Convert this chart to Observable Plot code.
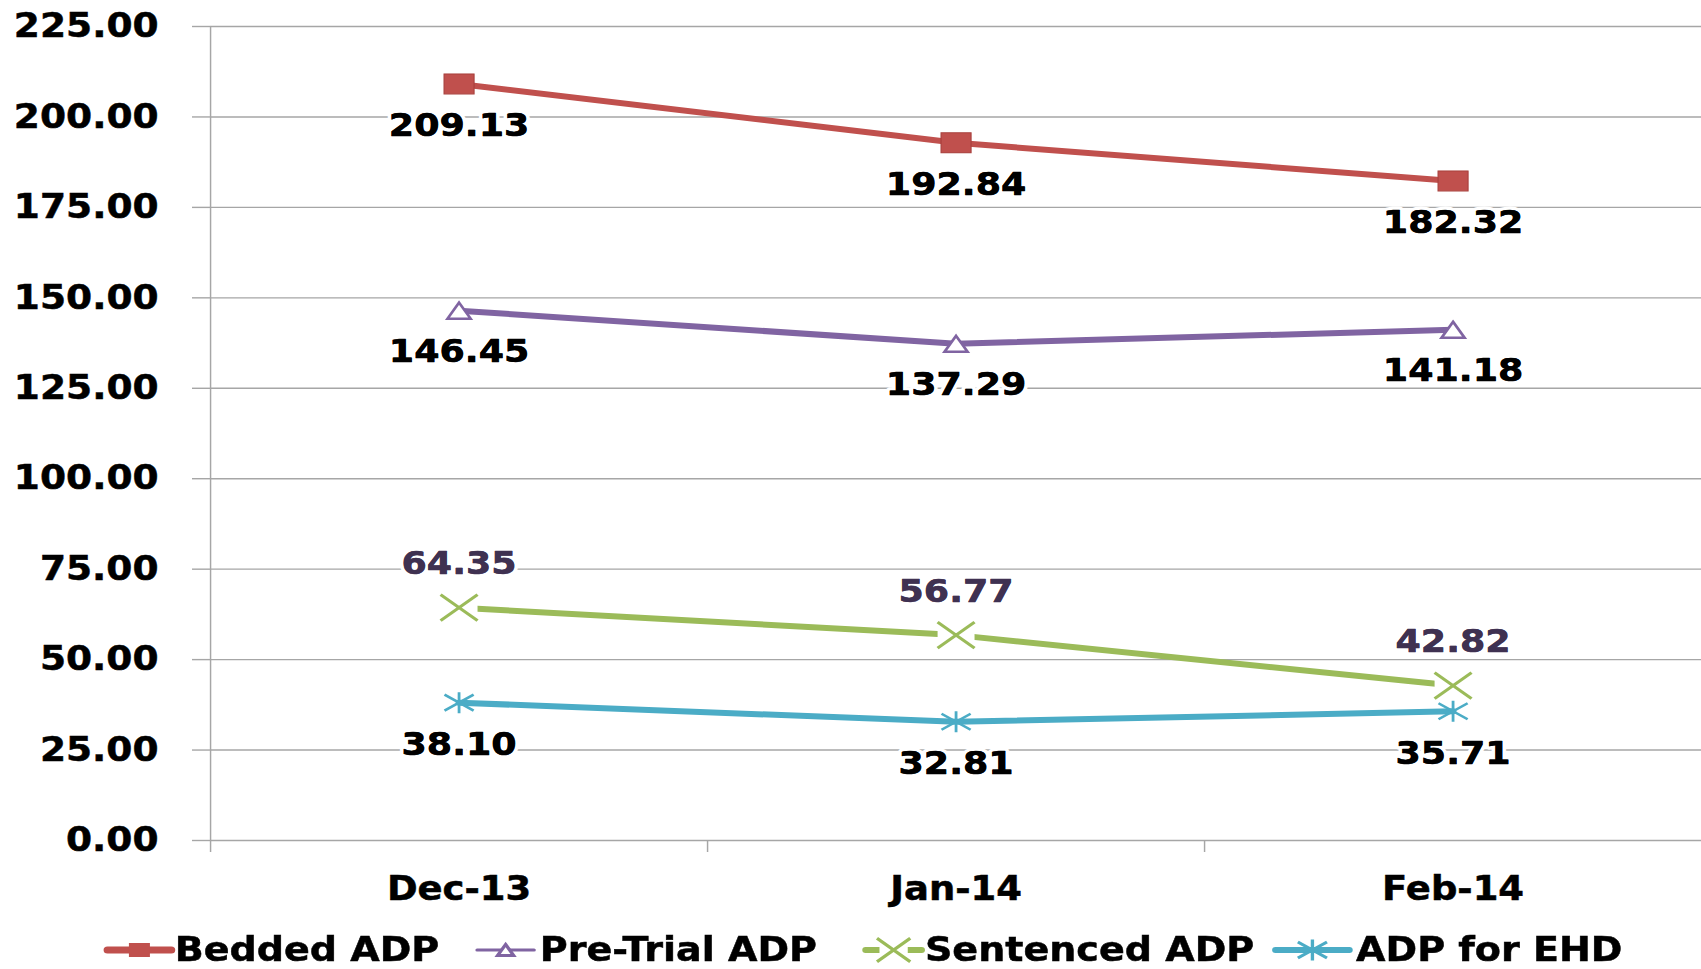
<!DOCTYPE html>
<html><head><meta charset="utf-8">
<script src="https://cdn.jsdelivr.net/npm/d3@7"></script>
<script src="https://cdn.jsdelivr.net/npm/@observablehq/plot@0.6"></script>
<style>
html,body{margin:0;padding:0;background:#fff;overflow:hidden;width:1701px;height:969px;}
#wrap{position:absolute;left:0;top:0;width:1519px;transform:scaleX(1.11982);transform-origin:0 0;}
#wrap svg{display:block;}
g[aria-label="y-axis tick label"] text, g[aria-label="x-axis tick label"] text {stroke:#000;stroke-width:0.5px;}
</style></head><body><div id="wrap"></div>
<script>
// ---- data ----
const months = ["Dec-13", "Jan-14", "Feb-14"];
const seriesNames = ["Bedded ADP", "Pre-Trial ADP", "Sentenced ADP", "ADP for EHD"];
const bedded = [209.13, 192.84, 182.32];
const preTrial = [146.45, 137.29, 141.18];
const sentenced = [64.35, 56.77, 42.82];
const ehd = [38.10, 32.81, 35.71];
const yTicks = [0, 25, 50, 75, 100, 125, 150, 175, 200, 225];

// ---- style ----
const W = 1519;
const S = 1701 / W;
const FONT = '"DejaVu Sans", Verdana, sans-serif';
const C = {red: "#C0504D", purple: "#8064A2", green: "#9BBB59", blue: "#4BACC6", grid: "#a6a6a6", dark: "#3F3151"};

const sym = f => ({draw: f});
const squareSym = sym(c => {c.moveTo(-13.4,-10);c.lineTo(13.4,-10);c.lineTo(13.4,10);c.lineTo(-13.4,10);c.closePath();});
const triSym = sym(c => {c.moveTo(0,-8);c.lineTo(10.3,8);c.lineTo(-10.3,8);c.closePath();});
const xSym = sym(c => {c.moveTo(-16.5,-13);c.lineTo(16.5,13);c.moveTo(-16.5,13);c.lineTo(16.5,-13);});
const boxSym = sym(c => {c.moveTo(-16.5,-13);c.lineTo(16.5,-13);c.lineTo(16.5,13);c.lineTo(-16.5,13);c.closePath();});
const starSym = sym(c => {c.moveTo(0,-10.5);c.lineTo(0,10.5);c.moveTo(-13,-8);c.lineTo(13,8);c.moveTo(-13,8);c.lineTo(13,-8);});

const rows = vals => vals.map((v, i) => ({i: i + 0.5, v}));
const lbl = (vals, dy, fill) => [
  Plot.text(rows(vals), {x: "i", y: "v", text: d => d.v.toFixed(2), dy, fill,
    fontSize: 32.5, fontWeight: "bold", stroke: "white", strokeWidth: 7, strokeLinejoin: "round", paintOrder: "stroke"}),
  Plot.text(rows(vals), {x: "i", y: "v", text: d => d.v.toFixed(2), dy, fill,
    fontSize: 32.5, fontWeight: "bold", stroke: fill, strokeWidth: 0.5})
];

const plot = Plot.plot({
  width: W, height: 910,
  marginLeft: 210 / S, marginRight: 0, marginTop: 26, marginBottom: 70,
  style: {fontFamily: FONT, fontWeight: "bold", background: "white", color: "black", overflow: "visible"},
  x: {domain: [0, months.length], label: null},
  y: {domain: [0, 225], label: null},
  marks: [
    Plot.ruleY(yTicks, {stroke: C.grid, strokeWidth: 1.4}),
    Plot.ruleX([0], {stroke: C.grid, strokeWidth: 1.3}),
    Plot.axisY(yTicks, {tickSize: 18 / S, tickPadding: 34 / S, tickFormat: d => d.toFixed(2), fontSize: 33.5,
      fontWeight: "bold", stroke: C.grid, strokeWidth: 1.4, fill: "black", label: null}),
    Plot.axisX(months.map((m, i) => i), {tickSize: 12, tickFormat: () => "", stroke: C.grid, strokeWidth: 1.3, label: null}),
    Plot.axisX(months.map((m, i) => i + 0.5), {tickSize: 0, tickPadding: 36, tickFormat: d => months[Math.floor(d)],
      fontSize: 33, fontWeight: "bold", fill: "black", label: null}),
    Plot.lineY(rows(bedded), {x: "i", y: "v", stroke: C.red, strokeWidth: 6}),
    Plot.lineY(rows(preTrial), {x: "i", y: "v", stroke: C.purple, strokeWidth: 6}),
    Plot.lineY(rows(sentenced), {x: "i", y: "v", stroke: C.green, strokeWidth: 6}),
    Plot.lineY(rows(ehd), {x: "i", y: "v", stroke: C.blue, strokeWidth: 6}),
    Plot.dot(rows(bedded), {x: "i", y: "v", symbol: squareSym, r: 5, fill: C.red, stroke: "#a8403d", strokeWidth: 1}),
    Plot.dot(rows(preTrial), {x: "i", y: "v", symbol: triSym, r: 5, fill: "white", stroke: C.purple, strokeWidth: 2.5}),
    Plot.dot(rows(sentenced), {x: "i", y: "v", symbol: boxSym, r: 5, fill: "white", stroke: "none"}),
    Plot.dot(rows(sentenced), {x: "i", y: "v", symbol: xSym, r: 5, fill: "none", stroke: C.green, strokeWidth: 3}),
    Plot.dot(rows(ehd), {x: "i", y: "v", symbol: starSym, r: 5, fill: "none", stroke: C.blue, strokeWidth: 2.5}),
    ...lbl(bedded, 42, "black"),
    ...lbl(preTrial, 41, "black"),
    ...lbl(sentenced, -44, C.dark),
    ...lbl(ehd, 42, "black")
  ]
});
const wrap = document.getElementById("wrap");
wrap.appendChild(plot);

// ---- legend ----
const legendItems = [
  {name: seriesNames[0], color: C.red, x0: 96, x1: 153, tx: 156, w: 7, sym: squareSym, k: 0.7, fill: C.red, stroke: "none", box: false},
  {name: seriesNames[1], color: C.purple, x0: 426, x1: 477, tx: 482, w: 3, sym: triSym, k: 0.7, fill: "white", stroke: C.purple, box: false},
  {name: seriesNames[2], color: C.green, x0: 773, x1: 823, tx: 826, w: 6, sym: xSym, k: 0.9, fill: "none", stroke: C.green, box: true},
  {name: seriesNames[3], color: C.blue, x0: 1139, x1: 1205, tx: 1211, w: 6, sym: starSym, k: 1, fill: "none", stroke: C.blue, box: false}
];
const leg = d3.create("svg").attr("width", W).attr("height", 59)
  .style("font-family", FONT).style("font-weight", "bold").style("overflow", "visible");
for (const it of legendItems) {
  const cx = (it.x0 + it.x1) / 2, cy = 40;
  leg.append("line").attr("x1", it.x0).attr("x2", it.x1).attr("y1", cy).attr("y2", cy)
    .attr("stroke", it.color).attr("stroke-width", it.w).attr("stroke-linecap", "round");
  if (it.box) leg.append("path").attr("d", d3.symbol(boxSym)()).attr("transform", `translate(${cx},${cy}) scale(${it.k * 0.85})`).attr("fill", "white");
  leg.append("path").attr("d", d3.symbol(it.sym)()).attr("transform", `translate(${cx},${cy}) scale(${it.k})`)
    .attr("fill", it.fill).attr("stroke", it.stroke).attr("stroke-width", 3 / it.k);
  leg.append("text").attr("x", it.tx).attr("y", 51).attr("font-size", 34).attr("fill", "black")
    .attr("stroke", "black").attr("stroke-width", 0.5).text(it.name);
}
wrap.appendChild(leg.node());
</script></body></html>
